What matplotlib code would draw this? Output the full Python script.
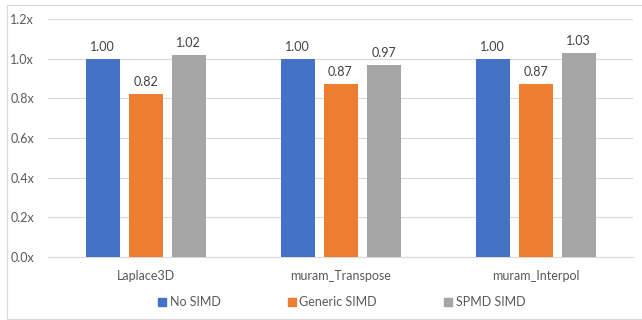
import matplotlib
matplotlib.use("Agg")
import matplotlib.pyplot as plt
from matplotlib.lines import Line2D
from matplotlib.patches import Rectangle
import numpy as np

categories = ["Laplace3D", "muram_Transpose", "muram_Interpol"]
series_names = ["No SIMD", "Generic SIMD", "SPMD SIMD"]
no_simd = [1.00, 1.00, 1.00]
generic_simd = [0.82, 0.87, 0.87]
spmd_simd = [1.02, 0.97, 1.03]
yticks = [0.0, 0.2, 0.4, 0.6, 0.8, 1.0, 1.2]
colors = ["#4472C4", "#ED7D31", "#A5A5A5"]

plt.rcParams['font.family'] = ['Lato', 'DejaVu Sans']
txt = "#595959"

fig = plt.figure(figsize=(6.42, 3.2), dpi=100)
W, H = 642, 320
ax = fig.add_axes([48 / W, 1 - 257 / H, (633 - 48) / W, (257 - 19) / H])

x = np.arange(len(categories))
bw = 34 / 195
off = 43 / 195
for i, (vals, c) in enumerate(zip([no_simd, generic_simd, spmd_simd], colors)):
    pos = x + (i - 1) * off
    ax.bar(pos, vals, width=bw, color=c, zorder=3)
    for p, v in zip(pos, vals):
        ax.text(p, v + 0.03, f"{v:.2f}", ha="center", va="bottom", fontsize=9, color="#404040")

ax.set_xlim(-0.5, len(categories) - 0.5)
ax.set_ylim(0, 1.2)
ax.set_yticks(yticks)
ax.set_yticklabels([f"{t:.1f}x" for t in yticks], fontsize=9, color=txt)
ax.set_xticks(x)
ax.set_xticklabels(categories, fontsize=9, color=txt)
ax.tick_params(axis="both", length=0)
ax.tick_params(axis="y", pad=10)
ax.tick_params(axis="x", pad=9)
ax.grid(axis="y", color="#D9D9D9", linewidth=0.8, zorder=0)
for s in ["top", "right", "left"]:
    ax.spines[s].set_visible(False)
ax.spines["bottom"].set_color("#D9D9D9")
ax.spines["bottom"].set_linewidth(0.8)

handles = [Line2D([0], [0], marker="s", linestyle="none", markersize=6,
                  markerfacecolor=c, markeredgecolor=c) for c in colors]
fig.legend(handles, series_names, loc="center", bbox_to_anchor=(342 / W, 1 - 302 / H),
           ncol=3, frameon=False, fontsize=9, labelcolor=txt,
           handlelength=0.6, handletextpad=0.3, columnspacing=5.4)

fig.patches.append(Rectangle((7 / W, 1.5 / H), (660 - 7) / W, (315.5 - 1.5) / H,
                             transform=fig.transFigure, fill=False,
                             edgecolor="#D9D9D9", linewidth=0.8))

fig.savefig("out.png", dpi=100, facecolor="white")
